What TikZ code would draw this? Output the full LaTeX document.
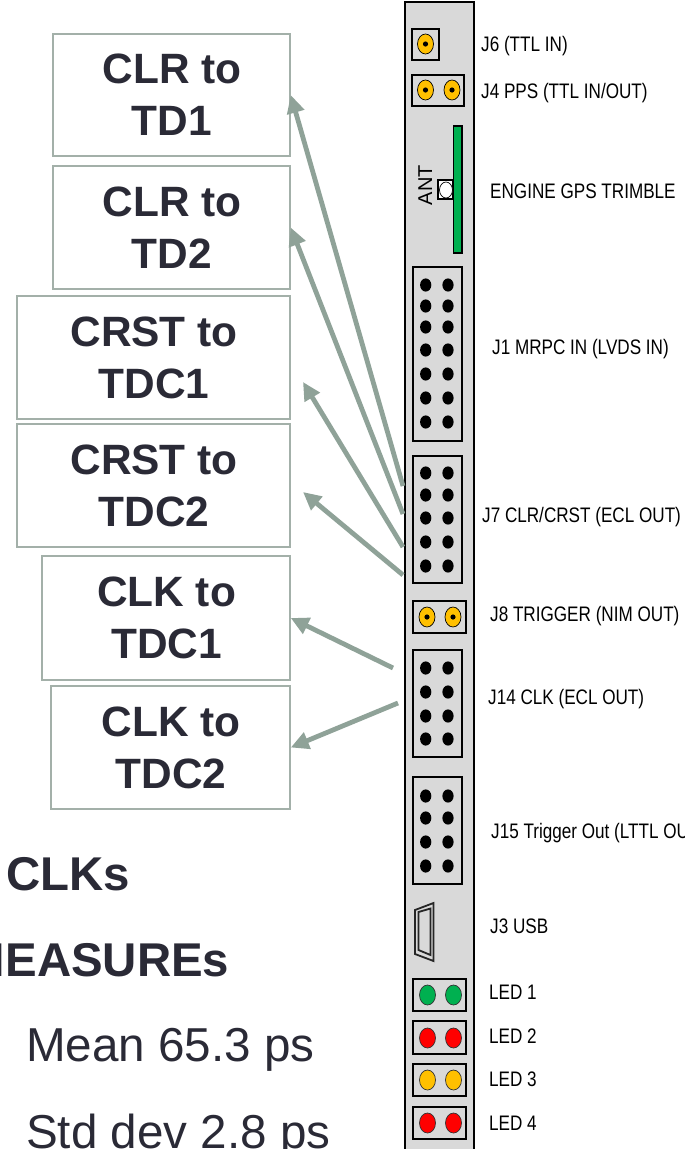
\documentclass[tikz,border=0pt]{standalone}
\usepackage{fontspec}
\setmainfont{Liberation Sans}
\newfontfamily\narrowf[FakeStretch=0.815]{Liberation Sans}
\usetikzlibrary{arrows.meta}
\definecolor{boardgray}{HTML}{D9D9D9}
\definecolor{linkcol}{HTML}{8FA298}
\definecolor{boxline}{HTML}{A3B0A9}
\definecolor{inkcol}{HTML}{2A2A36}
\definecolor{goldcol}{HTML}{FFC000}
\definecolor{greencol}{HTML}{00B050}
\definecolor{redcol}{HTML}{FF0000}
\tikzset{
  x=1pt,y=-1pt,
  tdbox/.style={draw=boxline,line width=1.5pt,fill=white,align=center,inner sep=0pt,
    font=\fontsize{42.4}{52}\selectfont\bfseries,text=inkcol},
  conn/.style={draw=linkcol,line width=4.8pt,-{Triangle[length=18pt,width=17pt]}},
  header/.style={draw=black,line width=1.9pt},
  lab/.style={anchor=base west,inner sep=0pt,font=\narrowf\fontsize{21}{24}\selectfont,text=black},
  big/.style={inner sep=0pt,font=\fontsize{47.4}{56}\selectfont\bfseries,text=inkcol},
  bignorm/.style={anchor=base west,inner sep=0pt,font=\fontsize{47.6}{56}\selectfont,text=inkcol},
}
\newcommand{\goldpin}[2]{\draw[black,line width=.7pt,fill=goldcol] (#1,#2) ellipse [x radius=8,y radius=10];\fill[black] (#1,#2) circle [radius=2.6];}
\newcommand{\ledpin}[3]{\draw[black!80,line width=.7pt,fill=#3] (#1,#2) ellipse [x radius=8,y radius=10];}
\newcommand{\blackpin}[1]{\fill[black] (425.7,#1) ellipse [x radius=5.6,y radius=6.6];\fill[black] (448,#1) ellipse [x radius=5.6,y radius=6.6];}
\newcommand{\twolines}[2]{\hspace*{1pt}\raisebox{-5pt}{#1}\\\hspace*{1pt}\raisebox{-5pt}{#2}}
\begin{document}
\begin{tikzpicture}
\useasboundingbox (0,0) rectangle (685,1149);
\clip (0,0) rectangle (685,1149);
% board
\draw[black,line width=2.1pt,fill=boardgray] (405,2) rectangle (474,1160);
% J6, J4
\draw[header] (412,29) rectangle (439,60);
\goldpin{425.5}{44}
\draw[header] (412,75) rectangle (464,106);
\goldpin{425.5}{90}\goldpin{452}{90}
% GPS
\draw[black,line width=1.8pt,fill=greencol] (453.5,126) rectangle (462,253);
\draw[black,line width=1.8pt,fill=white] (438,180) rectangle (453,199);
\draw[black,line width=.7pt,fill=white] (446,190) ellipse [x radius=6.5,y radius=8];
\node[inner sep=0pt,font=\fontsize{20}{24}\selectfont,rotate=90,anchor=base] (ant) at (432,185) {ANT};
% J1
\draw[header] (413,267) rectangle (462,441);
\foreach \y in {285,306,327,350,374,398,422} {\blackpin{\y}}
% J7
\draw[header] (413,456) rectangle (462,583);
\foreach \y in {473,495,518,542,566} {\blackpin{\y}}
% J8
\draw[header] (413,601) rectangle (466,633);
\goldpin{427}{617}\goldpin{453}{617}
% J14
\draw[header] (413,650) rectangle (462,757);
\foreach \y in {668,692,716,739} {\blackpin{\y}}
% J15
\draw[header] (413,777) rectangle (462,884);
\foreach \y in {796,818,842,866} {\blackpin{\y}}
% J3 USB
\draw[black!85,line width=1.8pt,fill=boardgray,line join=miter] (415,910) -- (433.5,903) -- (433.5,961) -- (415,954) -- cycle;
\draw[black!85,line width=1.8pt,fill=boardgray] (418.5,912) -- (430.5,908.5) -- (430.5,955) -- (418.5,950) -- cycle;
% LEDs
\draw[header] (413,979) rectangle (466,1011);
\ledpin{427.5}{995}{greencol}\ledpin{453.5}{995}{greencol}
\draw[header] (413,1021) rectangle (466,1054);
\ledpin{427.5}{1038}{redcol}\ledpin{453.5}{1038}{redcol}
\draw[header] (413,1064) rectangle (466,1096);
\ledpin{427.5}{1080}{goldcol}\ledpin{453.5}{1080}{goldcol}
\draw[header] (413,1107) rectangle (466,1139);
\ledpin{427.5}{1123}{redcol}\ledpin{453.5}{1123}{redcol}
% labels
\node[lab] (lj6) at (481,51) {J6 (TTL IN)};
\node[lab] (lj4) at (481,98) {J4 PPS (TTL IN/OUT)};
\node[lab] (lgps) at (490,198) {ENGINE GPS TRIMBLE};
\node[lab] (lj1) at (492,354) {J1 MRPC IN (LVDS IN)};
\node[lab] (lj7) at (482,522) {J7 CLR/CRST (ECL OUT)};
\node[lab] (lj8) at (490,621) {J8 TRIGGER (NIM OUT)};
\node[lab] (lj14) at (488,704) {J14 CLK (ECL OUT)};
\node[lab] (lj15) at (491,838) {J15 Trigger Out (LTTL OUT)};
\node[lab] (lj3) at (490,933) {J3 USB};
\node[lab] (ll1) at (489,999) {LED 1};
\node[lab] (ll2) at (489,1043) {LED 2};
\node[lab] (ll3) at (489,1086) {LED 3};
\node[lab] (ll4) at (489,1130) {LED 4};
% text boxes
\node[tdbox,minimum width=237pt,minimum height=122pt] (b1) at (171.5,95) {\twolines{CLR to}{TD1}};
\node[tdbox,minimum width=237pt,minimum height=123pt] (b2) at (171.5,227.5) {\twolines{CLR to}{TD2}};
\node[tdbox,minimum width=273pt,minimum height=123pt] (b3) at (153.5,357.5) {\twolines{CRST to}{TDC1}};
\node[tdbox,minimum width=273pt,minimum height=123pt] (b4) at (153.5,485.5) {\twolines{CRST to}{TDC2}};
\node[tdbox,minimum width=248pt,minimum height=124pt] (b5) at (166,618) {\twolines{CLK to}{TDC1}};
\node[tdbox,minimum width=239pt,minimum height=123pt] (b6) at (170.5,747.5) {\twolines{CLK to}{TDC2}};
% connectors
\coordinate (t1) at (403,486);
\coordinate (t2) at (403,514);
\coordinate (t3) at (403,547);
\coordinate (t4) at (403,575);
\coordinate (t5) at (393,668);
\coordinate (t6) at (398,703);
\coordinate (e3) at (303,382);
\coordinate (e4) at (303,492);
\draw[conn] (t1) -- (b1.east);
\draw[conn] (t2) -- (b2.east);
\draw[conn] (t3) -- (e3);
\draw[conn] (t4) -- (e4);
\draw[conn] (t5) -- (b5.east);
\draw[conn] (t6) -- (b6.east);
% lower text
\node[big,anchor=base west] (clks) at (6,890.5) {CLKs};
\node[big,anchor=base east] (meas) at (229.5,976) {MEASUREs};
\node[bignorm] (mean) at (26,1061) {Mean 65.3 ps};
\node[bignorm] (std) at (26,1148) {Std dev 2.8 ps};
\end{tikzpicture}
\end{document}
